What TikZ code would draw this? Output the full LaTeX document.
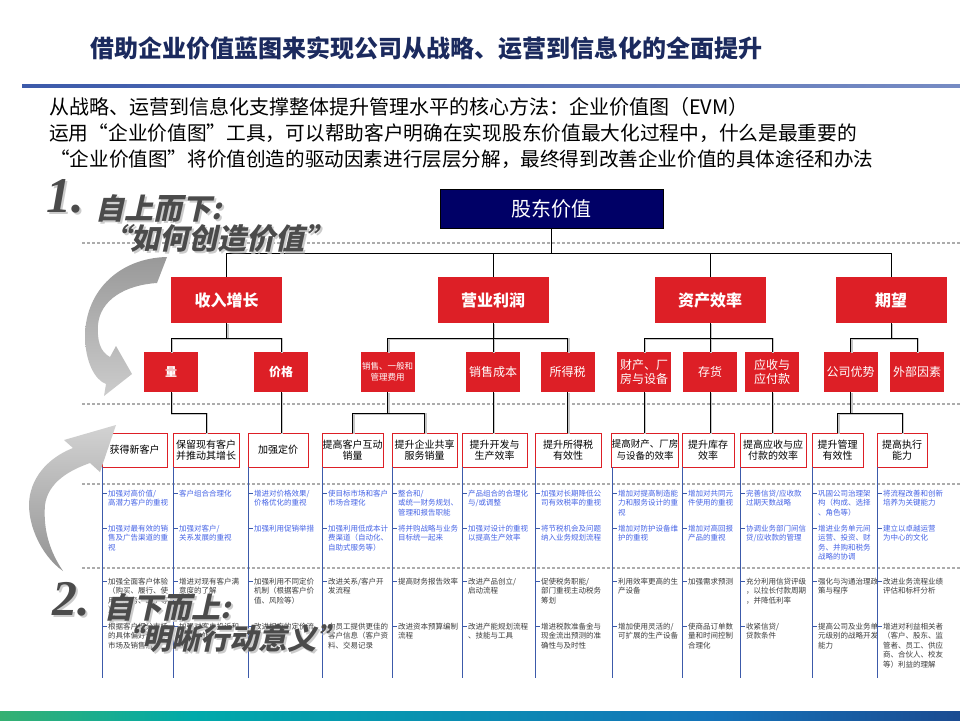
\documentclass[tikz,border=0pt]{standalone}
\usepackage{fontspec}
\setmainfont{Noto Sans CJK SC}
\newfontfamily\slantfont{Noto Sans CJK SC}[FakeSlant=0.22]
\newfontfamily\numfont{Liberation Serif}
\usetikzlibrary{calc}
\definecolor{evred}{RGB}{221,31,38}
\definecolor{evnavy}{RGB}{0,0,102}
\definecolor{evtitle}{RGB}{27,42,94}
\definecolor{evline}{RGB}{60,90,170}
\definecolor{evblue}{RGB}{70,100,230}
\definecolor{evdark}{RGB}{60,60,60}
\definecolor{evslant}{RGB}{75,75,75}
\definecolor{bargreen}{RGB}{122,184,40}
\definecolor{barteal}{RGB}{0,170,170}
\definecolor{barblue}{RGB}{20,115,185}
\definecolor{barnavy}{RGB}{30,60,130}
\definecolor{barpurple}{RGB}{110,60,160}
\pgfdeclarehorizontalshading{evbar}{100bp}{color(0bp)=(bargreen); color(12bp)=(bargreen); color(35bp)=(barteal); color(62bp)=(barblue); color(80bp)=(barnavy); color(100bp)=(barpurple)}
\newcommand\evconn[1]{\draw[shadowln] #1; \draw[connln] #1;}
\newcommand\evcol[6]{%
  \draw[colln] (#1,467) -- (#1,678);
  \foreach \yy in {493,528,581,626}{\draw[colln] (#1,\yy) -- ++(4.5,0);}
  \node[bluetxt] (#2a) at (#1+6,489.6) {#3};
  \node[bluetxt] (#2b) at (#1+6,524.6) {#4};
  \node[darktxt] (#2c) at (#1+6,577.6) {#5};
  \node[darktxt] (#2d) at (#1+6,622.6) {#6};
}
\begin{document}
\begin{tikzpicture}[x=1pt,y=-1pt,
  rootbox/.style={fill=evnavy, draw=black, line width=0.8pt, text=white, minimum width=223pt, minimum height=39pt, inner sep=0pt, font=\fontsize{20}{22}\selectfont},
  l1box/.style={fill=evred, text=white, minimum width=111pt, minimum height=46pt, inner sep=0pt, font=\bfseries\fontsize{16}{18}\selectfont},
  l2box/.style={fill=evred, text=white, minimum width=54pt, minimum height=40pt, inner sep=0pt, align=center, font=\fontsize{12}{14.5}\selectfont},
  l4box/.style={draw=evred, line width=1pt, fill=white, text=black, minimum height=34pt, inner sep=0pt, align=center, font=\fontsize{10}{11.5}\selectfont},
  intro/.style={anchor=west, inner sep=0pt, text=black, font=\fontsize{20}{24}\selectfont},
  dashln/.style={draw=gray!65, line width=1.1pt, dash pattern=on 3pt off 2pt},
  connln/.style={draw=black, line width=0.9pt},
  topln/.style={draw=black, line width=0.9pt},
  shadowln/.style={draw=gray!45, line width=1.8pt, transform canvas={shift={(1.2,1.2)}}},
  colln/.style={draw=evline, line width=0.9pt},
  bluetxt/.style={anchor=north west, inner sep=0pt, align=left, text=evblue, font=\fontsize{7.5}{9.5}\selectfont},
  darktxt/.style={anchor=north west, inner sep=0pt, align=left, text=evdark, font=\fontsize{7.5}{9.5}\selectfont},
  slanttxt/.style={anchor=west, inner sep=0pt, text=evslant, font=\slantfont\bfseries\fontsize{29}{30}\selectfont},
  numtxt/.style={anchor=base west, inner sep=0pt, text=evslant, font=\numfont\bfseries\itshape\fontsize{50}{50}\selectfont}
]
\useasboundingbox (0,0) rectangle (960,720);
\fill[white] (0,0) rectangle (960,720);

% title and intro
\node[anchor=west, inner sep=0pt, text=evtitle, font=\bfseries\fontsize{24}{26}\selectfont] (title) at (90,48) {借助企业价值蓝图来实现公司从战略、运营到信息化的全面提升};
\shade[left color=evline, right color=evline!70] (22,84.5) rectangle (960,87.5);
\node[intro] (t1) at (49,107) {从战略、运营到信息化支撑整体提升管理水平的核心方法：企业价值图（EVM）};
\node[intro, font=\fontsize{19.7}{24}\selectfont] (t2) at (49,133) {运用“企业价值图”工具，可以帮助客户明确在实现股东价值最大化过程中，什么是最重要的};
\node[intro, font=\fontsize{19.6}{24}\selectfont] (t3) at (50,159) {“企业价值图”将价值创造的驱动因素进行层层分解，最终得到改善企业价值的具体途径和办法};

% dashed separators
\foreach \yy in {243,404,484,568} \draw[dashln] (82,\yy) -- (960,\yy);

% tree boxes
\node[rootbox] (root) at (551.5,208.5) {股东价值};
\node[l1box] (rev) at (226.5,300) {收入增长};
\node[l1box] (opp) at (493,300) {营业利润};
\node[l1box] (ast) at (710,300) {资产效率};
\node[l1box] (exp) at (891,300) {期望};

\node[l2box, font=\bfseries\fontsize{12}{14.5}\selectfont] (vol) at (171,372) {量};
\node[l2box, font=\bfseries\fontsize{12}{14.5}\selectfont] (price) at (281,372) {价格};
\node[l2box, font=\fontsize{8.5}{10.7}\selectfont] (sga) at (387.5,372) {销售、一般和\\管理费用};
\node[l2box] (cogs) at (493,372) {销售成本};
\node[l2box] (tax) at (567.5,372) {所得税};
\node[l2box] (ppe) at (644,372) {财产、厂\\房与设备};
\node[l2box] (inv) at (710,372) {存货};
\node[l2box] (arp) at (772,372) {应收与\\应付款};
\node[l2box] (adv) at (850.5,372) {公司优势};
\node[l2box] (ext) at (917,372) {外部因素};

\node[l4box, minimum width=65pt] (b1) at (134.5,450) {获得新客户};
\node[l4box, minimum width=66pt] (b2) at (206,450) {保留现有客户\\并推动其增长};
\node[l4box, minimum width=60pt] (b3) at (278,450) {加强定价};
\node[l4box, minimum width=61pt] (b4) at (352.5,450) {提高客户互动\\销量};
\node[l4box, minimum width=65pt] (b5) at (424.5,450) {提升企业共享\\服务销量};
\node[l4box, minimum width=65pt] (b6) at (494.5,450) {提升开发与\\生产效率};
\node[l4box, minimum width=66pt] (b7) at (568,450) {提升所得税\\有效性};
\node[l4box, minimum width=66pt, font=\fontsize{9.5}{11.5}\selectfont] (b8) at (645,450) {提高财产、厂房\\与设备的效率};
\node[l4box, minimum width=52pt] (b9) at (708,450) {提升库存\\效率};
\node[l4box, minimum width=66pt] (b10) at (773,450) {提高应收与应\\付款的效率};
\node[l4box, minimum width=51pt] (b11) at (837.5,450) {提升管理\\有效性};
\node[l4box, minimum width=50pt] (b12) at (902,450) {提高执行\\能力};

% level 0 -> 1
\draw[topln] (rev.north) |- (exp.north |- 0,253) -- (exp.north);
\draw[topln] (root.south) -- (root.south |- 0,253);
\draw[topln] (opp.north) -- (opp.north |- 0,253);
\draw[topln] (ast.north) -- (ast.north |- 0,253);

% level 1 -> 2
\evconn{(rev.south) -- (rev.south |- 0,338)}
\evconn{(vol.north) |- (price.north |- 0,338) -- (price.north)}
\evconn{(opp.south) -- (opp.south |- 0,338)}
\evconn{(sga.north) |- (tax.north |- 0,338) -- (tax.north)}
\evconn{(cogs.north) -- (cogs.north |- 0,338)}
\evconn{(ast.south) -- (ast.south |- 0,338)}
\evconn{(ppe.north) |- (arp.north |- 0,338) -- (arp.north)}
\evconn{(inv.north) -- (inv.north |- 0,338)}
\evconn{(exp.south) -- (exp.south |- 0,338)}
\evconn{(adv.north) |- (ext.north |- 0,338) -- (ext.north)}

% level 2 -> 3
\evconn{(vol.south) |- (b2.north |- 0,413) -- (b2.north)}
\evconn{(price.south) -- (price.south |- b3.north)}
\evconn{(sga.south) -- (sga.south |- 0,413)}
\evconn{(b4.north) |- (b5.north |- 0,413) -- (b5.north)}
\evconn{(cogs.south) -- (cogs.south |- b6.north)}
\evconn{(tax.south) -- (tax.south |- b7.north)}
\evconn{(ppe.south) -- (ppe.south |- b8.north)}
\evconn{(inv.south) -- (inv.south |- b9.north)}
\evconn{(arp.south) -- (arp.south |- b10.north)}
\evconn{(adv.south) -- (adv.south |- 0,413)}
\evconn{(b11.north) |- (b12.north |- 0,413) -- (b12.north)}

% columns
\evcol{102}{c1}{加强对高价值/\\高潜力客户的重视}{加强对最有效的销\\售及广告渠道的重\\视}{加强全面客户体验\\（购买、履行、使\\用、服务、维护等\\）}{根据客户细分市场\\的具体偏好调整\\市场及销售活动}
\evcol{173}{c2}{客户组合合理化}{加强对客户/\\关系发展的重视}{增进对现有客户满\\意度的了解}{加强对客户投诉和\\问题的处理}
\evcol{248}{c3}{增进对价格效果/\\价格优化的重视}{加强利用促销举措}{加强利用不同定价\\机制（根据客户价\\值、风险等）}{改进相应的定价流\\程}
\evcol{322}{c4}{使目标市场和客户\\市场合理化}{加强利用低成本计\\费渠道（自动化、\\自助式服务等）}{改进关系/客户开\\发流程}{向员工提供更佳的\\客户信息（客户资\\料、交易记录}
\evcol{392}{c5}{整合和/\\或统一财务规划、\\管理和报告职能}{将并购战略与业务\\目标统一起来}{提高财务报告效率}{改进资本预算编制\\流程}
\evcol{462}{c6}{产品组合的合理化\\与/或调整}{加强对设计的重视\\以提高生产效率}{改进产品创立/\\启动流程}{改进产能规划流程\\、技能与工具}
\evcol{535}{c7}{加强对长期降低公\\司有效税率的重视}{将节税机会及问题\\纳入业务规划流程}{促使税务职能/\\部门重视主动税务\\筹划}{增进税款准备金与\\现金流出预测的准\\确性与及时性}
\evcol{612}{c8}{增加对提高制造能\\力和服务设计的重\\视}{增加对防护设备维\\护的重视}{利用效率更高的生\\产设备}{增加使用灵活的/\\可扩展的生产设备}
\evcol{682}{c9}{增加对共同元\\件使用的重视}{增加对高回报\\产品的重视}{加强需求预测}{使商品订单数\\量和时间控制\\合理化}
\evcol{740}{c10}{完善信贷/应收款\\过期天数战略}{协调业务部门间信\\贷/应收款的管理}{充分利用信贷评级\\，以拉长付款周期\\，并降低利率}{收紧信贷/\\贷款条件}
\evcol{812}{c11}{巩固公司治理架\\构（构成、选择\\、角色等）}{增进业务单元间\\运营、投资、财\\务、并购和税务\\战略的协调}{强化与沟通治理政\\策与程序}{提高公司及业务单\\元级别的战略开发\\能力}
\evcol{877}{c12}{将流程改善和创新\\培养为关键能力}{建立以卓越运营\\为中心的文化}{改进业务流程业绩\\评估和标杆分析}{增进对利益相关者\\（客户、股东、监\\管者、员工、供应\\商、合伙人、校友\\等）利益的理解}

% curved arrows
\shade[top color=gray!80, bottom color=gray!40]
  (167,257) .. controls (120,258) and (86,290) .. (85,335)
  .. controls (85,362) and (95,380) .. (106,384)
  -- (104,396) -- (132,374) -- (116,346) -- (110,357)
  .. controls (100,352) and (97,340) .. (98,325)
  .. controls (100,300) and (125,285) .. (157,283) -- cycle;
\shade[top color=gray!35, bottom color=gray!85]
  (63,571) .. controls (40,555) and (25,520) .. (30,495)
  .. controls (35,470) and (55,455) .. (73,448)
  -- (64,440) -- (116,425) -- (100,472) -- (90,463)
  .. controls (70,470) and (48,482) .. (45,505)
  .. controls (43,530) and (50,552) .. (63,571) -- cycle;

% overlay labels
\node[numtxt, text=gray!40] at (48.5,214.5) {1.};
\node[numtxt] (n1) at (46,212) {1.};
\node[slanttxt, text=gray!40] at (97.5,210.5) {自上而下:};
\node[slanttxt] (s1a) at (95,208) {自上而下:};
\node[slanttxt, text=gray!40] at (103.5,240.5) {“如何创造价值”};
\node[slanttxt] (s1b) at (101,238) {“如何创造价值”};

\node[numtxt, text=gray!40] at (54.5,617.5) {2.};
\node[numtxt] (n2) at (52,615) {2.};
\node[slanttxt, text=gray!40] at (106.5,609.5) {自下而上:};
\node[slanttxt] (s2a) at (104,607) {自下而上:};
\node[slanttxt, text=gray!40] at (115.5,640.5) {“明晰行动意义”};
\node[slanttxt] (s2b) at (113,638) {“明晰行动意义”};

% bottom bar
\shade[shading=evbar] (0,711) rectangle (960,720);
\end{tikzpicture}
\end{document}
